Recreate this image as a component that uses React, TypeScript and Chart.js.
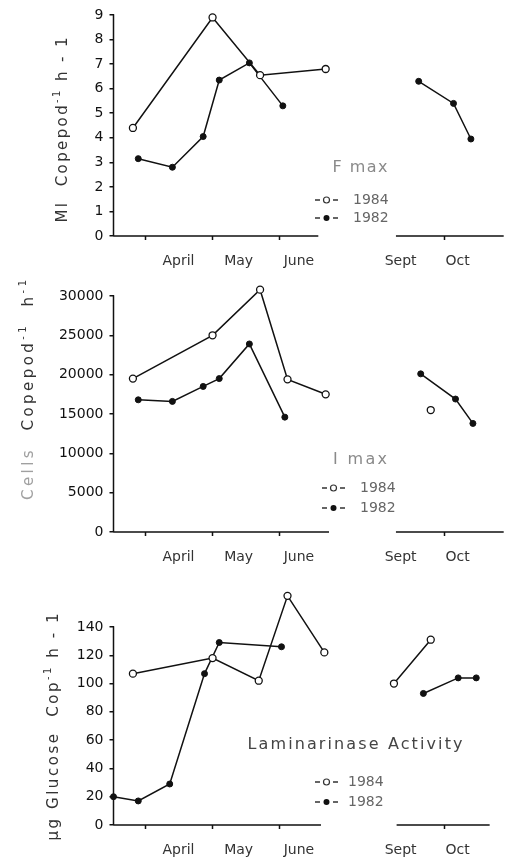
import React, { useEffect, useRef } from 'react';
import { Chart, registerables } from 'chart.js';
Chart.register(...registerables);

// Sampling dates are fractional months (4.0 = 1 April, 10.0 = 1 October).
// The x axis is broken between summer and September.
const BREAK_AFTER = 8;
const BREAK_SHIFT = 1.53;
const axisX = (m: number) => (m > BREAK_AFTER ? m - BREAK_SHIFT : m);

const MONTH_LABELS = ['April', 'May', 'June', 'Sept', 'Oct'];
const MONTH_LABEL_AT = [4.5, 5.4, 6.3, 9.35, 10.2];
const MONTH_TICKS = [4, 5, 6, 10];
const SERIES_NAMES = ['1984', '1982'];

// Panel 1: F max
const FMAX_YTICKS = [0, 1, 2, 3, 4, 5, 6, 7, 8, 9];
const FMAX_1984_DATES = [3.82, 5.01, 5.72, 6.7];
const FMAX_1984 = [4.4, 8.9, 6.55, 6.8];
const FMAX_1982_DATES = [3.9, 4.41, 4.87, 5.11, 5.56, 6.06, 9.62, 10.14, 10.4];
const FMAX_1982 = [3.15, 2.8, 4.05, 6.35, 7.05, 5.3, 6.3, 5.4, 3.95];

// Panel 2: I max
const IMAX_YTICKS = [0, 5000, 10000, 15000, 20000, 25000, 30000];
const IMAX_1984_DATES = [3.82, 5.01, 5.72, 6.13, 6.7, 9.8];
const IMAX_1984 = [19500, 25000, 30800, 19400, 17500, 15500];
const IMAX_1982_DATES = [3.9, 4.41, 4.87, 5.11, 5.56, 6.09, 9.65, 10.17, 10.43];
const IMAX_1982 = [16800, 16600, 18500, 19500, 23900, 14600, 20100, 16900, 13800];

// Panel 3: Laminarinase activity
const LAM_YTICKS = [0, 20, 40, 60, 80, 100, 120, 140];
const LAM_1984_DATES = [3.82, 5.01, 5.7, 6.13, 6.68, 9.25, 9.8];
const LAM_1984 = [107, 118, 102, 162, 122, 100, 131];
const LAM_1982_DATES = [3.53, 3.9, 4.37, 4.89, 5.11, 6.04, 9.69, 10.21, 10.48];
const LAM_1982 = [20, 17, 29, 107, 129, 126, 93, 104, 104];

const FONT = '"DejaVu Sans", sans-serif';

function toPoints(dates: number[], values: number[]) {
  const pts: { x: number; y: number | null }[] = [];
  dates.forEach((d, i) => {
    if (i > 0 && dates[i - 1] < BREAK_AFTER && d > BREAK_AFTER) {
      pts.push({ x: BREAK_AFTER - BREAK_SHIFT / 2, y: null });
    }
    pts.push({ x: axisX(d), y: values[i] });
  });
  return pts;
}

type Seg = { t: string; sup?: boolean; color?: string };

interface PanelCfg {
  top: number;
  height: number;
  padTop: number;
  xAxisH: number;
  yTicks: number[];
  yMax: number;
  d84: number[];
  v84: number[];
  d82: number[];
  v82: number[];
  axisSegs: [number, number][];
  title: Seg[];
  titleC: [number, number];
  titleLen: number;
  legTitle: string;
  legTitleColor: string;
  legTitleC: [number, number];
  legTitleSize: number;
  legTitleLen: number;
  legSymX: number;
  legTextX: number;
  legRows: [number, number];
}

const PANELS: PanelCfg[] = [
  {
    top: 0, height: 280, padTop: 15, xAxisH: 44, yTicks: FMAX_YTICKS, yMax: 9,
    d84: FMAX_1984_DATES, v84: FMAX_1984, d82: FMAX_1982_DATES, v82: FMAX_1982,
    axisSegs: [[3.53, 6.59], [7.75, 9.36]],
    title: [{ t: 'Ml  Copepod' }, { t: '-1', sup: true }, { t: ' h - 1' }],
    titleC: [63, 130], titleLen: 185,
    legTitle: 'F max', legTitleColor: '#8a8a8a', legTitleC: [360, 168], legTitleSize: 16, legTitleLen: 55,
    legSymX: 315, legTextX: 353, legRows: [200, 218],
  },
  {
    top: 270, height: 300, padTop: 18.1, xAxisH: 38, yTicks: IMAX_YTICKS, yMax: 31000,
    d84: IMAX_1984_DATES, v84: IMAX_1984, d82: IMAX_1982_DATES, v82: IMAX_1982,
    axisSegs: [[3.53, 6.75], [7.75, 9.36]],
    title: [{ t: 'Cells', color: '#a0a0a0' }, { t: '  Copepod' }, { t: '-1', sup: true }, { t: '  h' }, { t: '-1', sup: true }],
    titleC: [29, 120], titleLen: 220,
    legTitle: 'I max', legTitleColor: '#8a8a8a', legTitleC: [360, 190], legTitleSize: 16, legTitleLen: 54,
    legSymX: 322, legTextX: 360, legRows: [218, 238],
  },
  {
    top: 570, height: 290, padTop: 21.6, xAxisH: 35, yTicks: LAM_YTICKS, yMax: 165,
    d84: LAM_1984_DATES, v84: LAM_1984, d82: LAM_1982_DATES, v82: LAM_1982,
    axisSegs: [[3.53, 6.63], [7.76, 9.15]],
    title: [{ t: 'µg Glucose  Cop' }, { t: '-1', sup: true }, { t: ' h - 1' }],
    titleC: [54, 157], titleLen: 227,
    legTitle: 'Laminarinase Activity', legTitleColor: '#444', legTitleC: [355, 175], legTitleSize: 16, legTitleLen: 215,
    legSymX: 315, legTextX: 348, legRows: [212, 232],
  },
];

function drawFitted(ctx: CanvasRenderingContext2D, segs: Seg[], x0: number, y: number, len: number, size: number, baseColor: string) {
  const supSize = Math.round(size * 0.68);
  const widths = segs.map((s) => {
    ctx.font = `${s.sup ? supSize : size}px ${FONT}`;
    return ctx.measureText(s.t).width;
  });
  const nat = widths.reduce((a, b) => a + b, 0);
  const nChars = segs.reduce((a, s) => a + s.t.length, 0);
  const sp = nChars > 1 ? (len - nat) / (nChars - 1) : 0;
  let x = x0;
  (ctx as any).letterSpacing = `${sp}px`;
  segs.forEach((s, i) => {
    ctx.font = `${s.sup ? supSize : size}px ${FONT}`;
    ctx.fillStyle = s.color || baseColor;
    ctx.fillText(s.t, x, s.sup ? y - size * 0.38 : y);
    x += widths[i] + sp * s.t.length;
  });
  (ctx as any).letterSpacing = '0px';
}

function makePlugin(p: PanelCfg) {
  const yTop = p.yTicks[p.yTicks.length - 1];
  return {
    id: 'decor',
    beforeDatasetsDraw(chart: any) {
      const ctx: CanvasRenderingContext2D = chart.ctx;
      const xs = chart.scales.x;
      const ys = chart.scales.y;
      const yb = chart.chartArea.bottom;
      const xl = chart.chartArea.left;
      ctx.save();
      ctx.strokeStyle = '#111';
      ctx.lineWidth = 1.5;
      ctx.beginPath();
      p.axisSegs.forEach(([a, b]) => {
        ctx.moveTo(xs.getPixelForValue(a), yb);
        ctx.lineTo(xs.getPixelForValue(b), yb);
      });
      MONTH_TICKS.forEach((m) => {
        const px = Math.round(xs.getPixelForValue(axisX(m))) + 0.5;
        ctx.moveTo(px, yb);
        ctx.lineTo(px, yb + 4);
      });
      ctx.moveTo(xl, yb);
      ctx.lineTo(xl, ys.getPixelForValue(yTop) - 0.75);
      ctx.stroke();
      ctx.restore();
    },
    afterDraw(chart: any) {
      const ctx: CanvasRenderingContext2D = chart.ctx;
      ctx.save();
      ctx.translate(p.titleC[0], p.titleC[1]);
      ctx.rotate(-Math.PI / 2);
      ctx.textBaseline = 'middle';
      ctx.textAlign = 'left';
      drawFitted(ctx, p.title, -p.titleLen / 2, 0, p.titleLen, 15, '#333');
      ctx.restore();

      ctx.save();
      ctx.textBaseline = 'middle';
      ctx.textAlign = 'left';
      drawFitted(ctx, [{ t: p.legTitle }], p.legTitleC[0] - p.legTitleLen / 2, p.legTitleC[1], p.legTitleLen, p.legTitleSize, p.legTitleColor);
      p.legRows.forEach((ry, i) => {
        const sx = p.legSymX;
        ctx.strokeStyle = '#333';
        ctx.lineWidth = 1.5;
        ctx.beginPath();
        ctx.moveTo(sx, ry);
        ctx.lineTo(sx + 5, ry);
        ctx.moveTo(sx + 18, ry);
        ctx.lineTo(sx + 23, ry);
        ctx.stroke();
        ctx.beginPath();
        ctx.arc(sx + 11.5, ry, 3, 0, Math.PI * 2);
        if (i === 0) {
          ctx.fillStyle = '#fff';
          ctx.fill();
          ctx.lineWidth = 1.2;
          ctx.stroke();
        } else {
          ctx.fillStyle = '#111';
          ctx.fill();
        }
        ctx.font = `14px ${FONT}`;
        ctx.fillStyle = '#666';
        ctx.fillText(SERIES_NAMES[i], p.legTextX, ry);
      });
      ctx.restore();
    },
  };
}

function Panel({ p }: { p: PanelCfg }) {
  const ref = useRef<HTMLCanvasElement>(null);
  useEffect(() => {
    if (!ref.current) return;
    const chart = new Chart(ref.current, {
      type: 'line',
      data: {
        datasets: [
          {
            label: SERIES_NAMES[0],
            data: toPoints(p.d84, p.v84) as any,
            borderColor: '#111',
            borderWidth: 1.5,
            pointRadius: 3.5,
            pointBackgroundColor: '#fff',
            pointBorderColor: '#111',
            pointBorderWidth: 1.3,
            spanGaps: false,
            clip: false as any,
          },
          {
            label: SERIES_NAMES[1],
            data: toPoints(p.d82, p.v82) as any,
            borderColor: '#111',
            borderWidth: 1.5,
            pointRadius: 3,
            pointBackgroundColor: '#111',
            pointBorderColor: '#111',
            pointBorderWidth: 1,
            spanGaps: false,
            clip: false as any,
          },
        ],
      },
      options: {
        responsive: false,
        animation: false,
        layout: { padding: { top: p.padTop, right: 2, left: 0, bottom: 0 } },
        plugins: { legend: { display: false }, tooltip: { enabled: false } },
        scales: {
          x: {
            type: 'linear',
            min: 3.53,
            max: 9.36,
            grid: { display: false, drawTicks: false },
            border: { display: false },
            afterBuildTicks: (s: any) => {
              s.ticks = MONTH_LABEL_AT.map((m) => ({ value: axisX(m) }));
            },
            afterFit: (s: any) => {
              s.height = p.xAxisH;
            },
            ticks: {
              autoSkip: false,
              maxRotation: 0,
              padding: 17,
              color: '#333',
              font: { family: FONT, size: 14 },
              callback: (_v: any, i: number) => MONTH_LABELS[i],
            },
          },
          y: {
            type: 'linear',
            min: 0,
            max: p.yMax,
            grid: { drawOnChartArea: false, drawTicks: true, tickLength: 4, color: '#111', lineWidth: 1.5 },
            border: { display: false },
            afterBuildTicks: (s: any) => {
              s.ticks = p.yTicks.map((v) => ({ value: v }));
            },
            afterFit: (s: any) => {
              s.width = 113.5;
            },
            ticks: {
              autoSkip: false,
              padding: 6,
              color: '#111',
              font: { family: FONT, size: 14 },
              callback: (v: any) => String(v),
            },
          },
        },
      },
      plugins: [makePlugin(p)],
    });
    return () => chart.destroy();
  }, [p]);
  return (
    <canvas
      ref={ref}
      width={509}
      height={p.height}
      style={{ position: 'absolute', left: 0, top: p.top, width: 509, height: p.height }}
    />
  );
}

export default function App() {
  return (
    <div style={{ position: 'absolute', left: 0, top: 0, width: 509, height: 860, background: '#fff', overflow: 'hidden' }}>
      {PANELS.map((p, i) => (
        <Panel key={i} p={p} />
      ))}
    </div>
  );
}
